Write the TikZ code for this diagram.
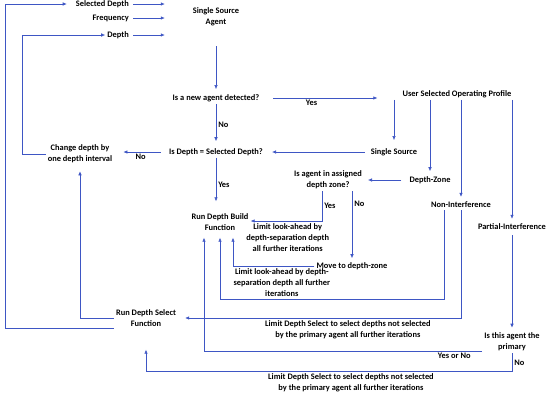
\documentclass[tikz,border=0pt]{standalone}
\usepackage{fontspec}
\setmainfont{Carlito}
\usetikzlibrary{positioning, arrows.meta}
\definecolor{flowblue}{RGB}{62,86,196}

\begin{document}
\begin{tikzpicture}[x=1pt, y=-1pt, on grid,
    every node/.style={font=\fontsize{8.4}{11}\selectfont\bfseries, align=center, inner sep=2pt},
    >={Latex[length=4pt,width=3.5pt]},
    link/.style={->, draw=flowblue, line width=0.6pt}]
  \useasboundingbox (0,0) rectangle (549,400);

  % inputs to the agent
  \node[minimum width=102pt] (agent) at (216,17) {Single Source\\Agent};
  \node[above left=13pt and 85pt of agent, anchor=east] (seldepth) {Selected Depth};
  \node[below left=1pt and 85pt of agent, anchor=east] (freq) {Frequency};
  \node[below left=18pt and 85pt of agent, anchor=east] (depth) {Depth};

  % main column
  \node[below=81pt of agent] (newagent) {Is a new agent detected?};
  \node[below=54pt of newagent] (isdepth) {Is Depth = Selected Depth?};
  \node[below left=2pt and 136pt of isdepth] (change) {Change depth by\\one depth interval};
  \node[below right=70pt and 4pt of isdepth] (build) {Run Depth Build\\Function};
  \node[below left=96pt and 74pt of build] (select) {Run Depth Select\\Function};

  % operating profile branch
  \node[above right=4pt and 241pt of newagent] (profile) {User Selected Operating Profile};
  \node[right=178pt of isdepth] (single) {Single Source};
  \node[below right=28pt and 36pt of single] (zone) {Depth-Zone};
  \node[left=102pt of zone] (inzone) {Is agent in assigned\\depth zone?};
  \node[below right=25pt and 31pt of zone] (nonint) {Non-Interference};
  \node[below right=22pt and 51pt of nonint] (partial) {Partial-Interference};
  \node[below right=86pt and 24pt of inzone] (move) {Move to depth-zone};
  \node[below=115pt of partial] (primary) {Is this agent the\\primary};

  \coordinate (outerrail) at (5,0);
  \coordinate (innerrail) at (22,0);

  % connectors
  \draw[link] ([xshift=2pt]seldepth.east) -- (seldepth.east -| agent.west);
  \draw[link] ([xshift=2pt]freq.east) -- (freq.east -| agent.west);
  \draw[link] ([xshift=2pt]depth.east) -- (depth.east -| agent.west);
  \draw[link, shorten <=18pt, shorten >=3pt] (agent) -- (newagent);
  \draw[link, shorten <=12pt, shorten >=23pt] (newagent.east) -- node[below, pos=.36] {Yes} (newagent.east -| profile.west);
  \draw[link, shorten >=5pt] (newagent) -- node[right] {No} (isdepth);
  \draw[link, shorten <=6pt, shorten >=9pt] (isdepth.west) -- node[below] {No} (isdepth.west -| change.east);
  \draw[link, shorten >=10pt] (isdepth) -- node[right] {Yes} (isdepth |- build.north);
  \draw[link] (change.west) -| (innerrail |- depth.west) -- (depth.west);
  \draw[link, shorten >=7pt] ([yshift=-10pt]select.west) -| (outerrail |- seldepth.west) -- (seldepth.west);
  \draw[link, shorten >=6pt] (select.west) -| (change.south);

  \draw[link, shorten >=6pt] (profile.south -| single) -- (single);
  \draw[link, shorten >=3pt] (profile.south -| zone) -- (zone);
  \draw[link, shorten >=3pt] (profile.south -| nonint) -- (nonint);
  \draw[link, shorten >=3pt] (profile.south -| partial) -- (partial);
  \draw[link, shorten <=4pt, shorten >=7pt] (single.west) -- (single.west -| isdepth.east);
  \draw[link, shorten <=6pt, shorten >=4pt] (zone.west) -- (zone.west -| inzone.east);

  \draw[link] ([xshift=-6pt]inzone.south) |- node[pos=.25, right] {Yes}
    node[pos=.74, below] {Limit look-ahead by\\depth-separation depth\\all further iterations} ([yshift=1pt]build.east);
  \draw[link, shorten >=2pt] (inzone.south -| move) -- node[pos=.18, right] {No} (move);
  \draw[link, shorten >=5pt] (move.west) -| node[pos=.2, below] {Limit look-ahead by depth-\\separation depth all further\\iterations} ([xshift=13pt]build.south);
  \draw[link, shorten >=5pt] ([xshift=-17pt]nonint.south) -- ++(0,89) -| (build.south);
  \draw[link, shorten >=7pt] (nonint.south) |- node[pos=.7, below] {Limit Depth Select to select depths not selected\\by the primary agent all further iterations} (select.east);
  \draw[link, shorten <=3pt, shorten >=3pt] (partial) -- (partial |- primary.north);
  \draw[link, shorten >=5pt] ([yshift=-9pt]primary.west) -| node[pos=.05, below] {Yes or No} ([xshift=-16pt]build.south);
  \draw[link, shorten >=21pt] (primary.south) -- node[right] {No} ++(0,18)
    -| node[pos=.22, below] {Limit Depth Select to select depths not selected\\by the primary agent all further iterations} (select.south);
\end{tikzpicture}
\end{document}
